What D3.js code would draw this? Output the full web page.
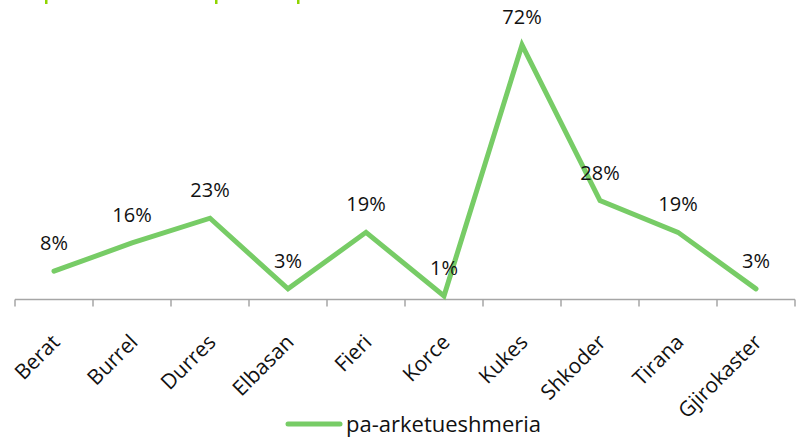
<!DOCTYPE html>
<html>
<head>
<meta charset="utf-8">
<script src="https://cdn.jsdelivr.net/npm/d3@7"></script>
<style>
  html, body { margin: 0; padding: 0; background: #fff; }
  svg { display: block; }
  text { font-family: "Open Sans", "Noto Sans", sans-serif; fill: #111; }
</style>
</head>
<body>
<svg id="chart" width="798" height="439"></svg>
<script>
// City names along the category axis
const cities = ["Berat", "Burrel", "Durres", "Elbasan", "Fieri", "Korce", "Kukes", "Shkoder", "Tirana", "Gjirokaster"];
// Share per city, in percent
const values = [8, 16, 23, 3, 19, 1, 72, 28, 19, 3];
const seriesName = "pa-arketueshmeria";

const W = 798, H = 439;
const margin = { left: 15, right: 3, top: 45, bottom: 139.5 };
const lineColor = "#77cc66";
const axisColor = "#a6a6a6";

const svg = d3.select("#chart");

const x = d3.scaleBand()
  .domain(cities)
  .range([margin.left, W - margin.right])
  .padding(0);

const y = d3.scaleLinear()
  .domain([0, 72])
  .range([H - margin.bottom, margin.top]);

const cx = d => x(d) + x.bandwidth() / 2;

// Fragments of the green heading above the plot area
svg.append("g").selectAll("rect")
  .data([46, 216, 298])
  .join("rect")
  .attr("x", d => d - 1)
  .attr("y", 0)
  .attr("width", 2.5)
  .attr("height", 4)
  .attr("fill", "#8fd400");

// Category axis: baseline and tick marks at band edges
const axisY = y(0);
const edges = cities.map(c => x(c)).concat([x(cities[cities.length - 1]) + x.bandwidth()]);
const axisG = svg.append("g");
axisG.append("line")
  .attr("x1", x.range()[0]).attr("x2", x.range()[1])
  .attr("y1", axisY).attr("y2", axisY)
  .attr("stroke", axisColor).attr("stroke-width", 1.5);
axisG.selectAll("line.tick")
  .data(edges)
  .join("line")
  .attr("class", "tick")
  .attr("x1", d => d).attr("x2", d => d)
  .attr("y1", axisY).attr("y2", axisY + 7)
  .attr("stroke", axisColor).attr("stroke-width", 1.5);

// Rotated category labels
axisG.selectAll("text.cat")
  .data(cities)
  .join("text")
  .attr("class", "cat")
  .attr("text-anchor", "end")
  .attr("font-size", 21)
  .attr("transform", d => `translate(${cx(d) + 7},${axisY + 44}) rotate(-45)`)
  .text(d => d);

// The series line
const line = d3.line()
  .x((d, i) => cx(cities[i]))
  .y(d => y(d));

svg.append("path")
  .datum(values)
  .attr("d", line)
  .attr("fill", "none")
  .attr("stroke", lineColor)
  .attr("stroke-width", 5)
  .attr("stroke-linejoin", "miter")
  .attr("stroke-linecap", "round");

// Value labels above each point
svg.append("g").selectAll("text")
  .data(values)
  .join("text")
  .attr("x", (d, i) => cx(cities[i]))
  .attr("y", d => y(d) - 21)
  .attr("text-anchor", "middle")
  .attr("font-size", 20)
  .text(d => d + "%");

// Legend
const lg = svg.append("g").attr("transform", "translate(288,424)");
lg.append("line")
  .attr("x1", 0).attr("x2", 52)
  .attr("y1", 0).attr("y2", 0)
  .attr("stroke", lineColor).attr("stroke-width", 5)
  .attr("stroke-linecap", "round");
lg.append("text")
  .attr("x", 58).attr("y", 8)
  .attr("font-size", 22)
  .text(seriesName);
</script>
</body>
</html>
